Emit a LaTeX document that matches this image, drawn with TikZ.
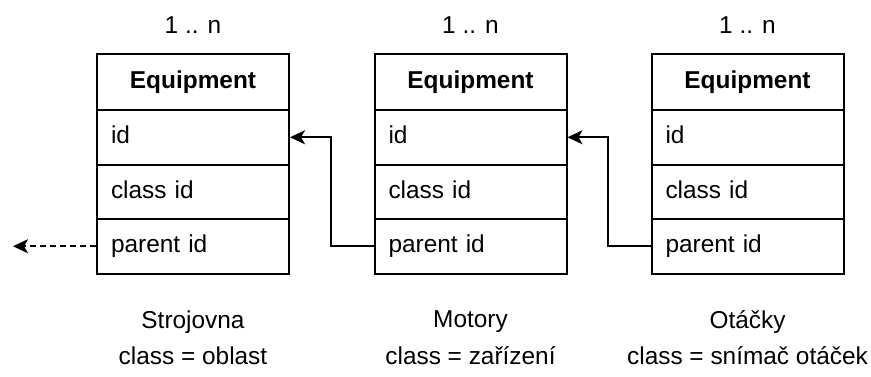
\documentclass[tikz,border=0pt]{standalone}
\usepackage{fontspec}
\setmainfont{Liberation Sans}
\usetikzlibrary{arrows.meta}

\begin{document}
\begin{tikzpicture}[x=1pt,y=-1pt,
    font=\fontsize{24.4}{29}\selectfont,
    head/.style={draw, line width=2pt, minimum width=192pt, minimum height=56pt,
        inner sep=0pt, font=\fontsize{24.4}{29}\selectfont\bfseries},
    field/.style={draw, line width=2pt, minimum width=192pt, minimum height=54.5pt,
        inner xsep=14pt, inner ysep=0pt, text width=164pt, align=left,
        text height=18pt, text depth=5pt},
    link/.style={line width=2pt, -{Stealth[length=15pt,width=14pt,inset=4pt]}}]
        \useasboundingbox (0,0) rectangle (871,376);

        % Strojovna
        \node (mul1) at (193,25) {1 .. n};
        \node[head] (Sh) at (193,82) {Equipment};
        \node[field] (Sid) at (193,137.25) {id};
        \node[field] (Scid) at (193,191.75) {class id};
        \node[field] (Spid) at (193,246.25) {parent id};
        \node (name1) at (193,322) {Strojovna};
        \node (cls1) at (193,356) {class = oblast};

        % Motory
        \node (mul2) at (470.5,25) {1 .. n};
        \node[head] (Mh) at (470.5,82) {Equipment};
        \node[field] (Mid) at (470.5,137.25) {id};
        \node[field] (Mcid) at (470.5,191.75) {class id};
        \node[field] (Mpid) at (470.5,246.25) {parent id};
        \node (name2) at (470.5,322) {Motory};
        \node (cls2) at (470.5,356) {class = zařízení};

        % Otacky
        \node (mul3) at (747.5,25) {1 .. n};
        \node[head] (Oh) at (747.5,82) {Equipment};
        \node[field] (Oid) at (747.5,137.25) {id};
        \node[field] (Ocid) at (747.5,191.75) {class id};
        \node[field] (Opid) at (747.5,246.25) {parent id};
        \node (name3) at (747.5,322) {Otáčky};
        \node (cls3) at (747.5,356) {class = snímač otáček};

        % parent links
        \coordinate (up) at (13,246.25);
        \draw[link, dash pattern=on 6pt off 4pt] (Spid.west) -- (up);
        \draw[link] (Mpid.west) -- ++(-42.5,0) |- (Sid.east);
        \draw[link] (Opid.west) -- ++(-43,0) |- (Mid.east);

    \end{tikzpicture}
\end{document}
